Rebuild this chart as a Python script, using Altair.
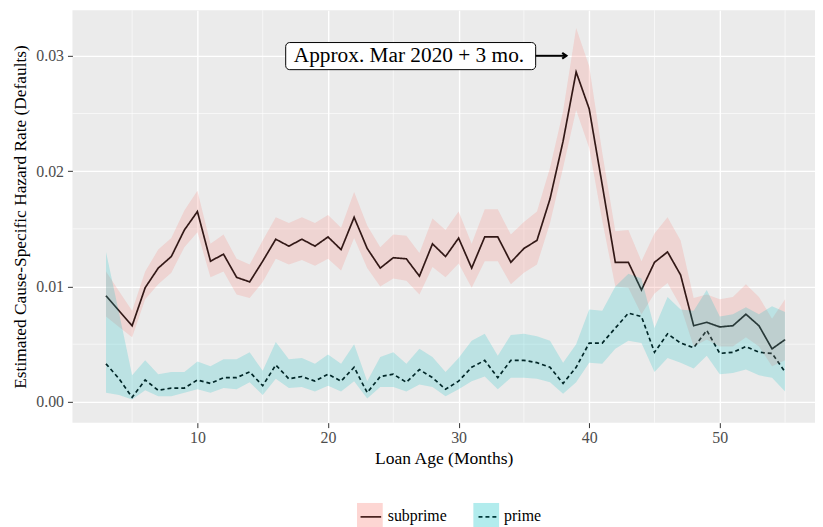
import altair as alt
import pandas as pd

# ---- data ----
age = list(range(3, 56))

sub_est = [0.0092, 0.0079, 0.0066, 0.0099, 0.0116, 0.0126, 0.0149, 0.0165, 0.0122, 0.0128,
           0.0108, 0.0104, 0.0122, 0.0141, 0.0135, 0.0141, 0.0135, 0.0143, 0.0132, 0.0160,
           0.0133, 0.0116, 0.0125, 0.0124, 0.0109, 0.0137, 0.0126, 0.0142, 0.0116, 0.0143,
           0.0143, 0.0121, 0.0133, 0.0140, 0.0176, 0.0226, 0.0286, 0.0254, 0.0188, 0.0121,
           0.0121, 0.0097, 0.0121, 0.0130, 0.0110, 0.0066, 0.0069, 0.0065, 0.0066, 0.0076,
           0.0066, 0.0046, 0.0054]
sub_lo = [0.0074, 0.0065, 0.0056, 0.0089, 0.0102, 0.0112, 0.0134, 0.0147, 0.0108, 0.0113,
          0.0093, 0.0090, 0.0104, 0.0124, 0.0119, 0.0123, 0.0118, 0.0124, 0.0114, 0.0142,
          0.0116, 0.0100, 0.0107, 0.0105, 0.0093, 0.0117, 0.0108, 0.0120, 0.0099, 0.0122,
          0.0122, 0.0102, 0.0112, 0.0119, 0.0155, 0.0203, 0.0253, 0.0220, 0.0157, 0.0100,
          0.0099, 0.0076, 0.0094, 0.0103, 0.0083, 0.0048, 0.0054, 0.0048, 0.0048, 0.0056,
          0.0048, 0.0031, 0.0036]
sub_hi = [0.0113, 0.0096, 0.0079, 0.0113, 0.0132, 0.0142, 0.0166, 0.0183, 0.0137, 0.0145,
          0.0124, 0.0119, 0.0140, 0.0160, 0.0155, 0.0160, 0.0155, 0.0162, 0.0151, 0.0182,
          0.0153, 0.0134, 0.0145, 0.0144, 0.0129, 0.0159, 0.0149, 0.0165, 0.0137, 0.0167,
          0.0167, 0.0145, 0.0156, 0.0165, 0.0203, 0.0252, 0.0324, 0.0291, 0.0216, 0.0148,
          0.0149, 0.0122, 0.0146, 0.0160, 0.0140, 0.0090, 0.0093, 0.0089, 0.0091, 0.0102,
          0.0091, 0.0072, 0.0089]

pri_est = [0.0033, 0.0020, 0.0004, 0.0019, 0.0010, 0.0012, 0.0012, 0.0019, 0.0016, 0.0021,
           0.0021, 0.0026, 0.0014, 0.0032, 0.0020, 0.0022, 0.0018, 0.0024, 0.0018, 0.0030,
           0.0008, 0.0022, 0.0024, 0.0017, 0.0028, 0.0021, 0.0011, 0.0018, 0.0030, 0.0036,
           0.0021, 0.0036, 0.0036, 0.0034, 0.0030, 0.0016, 0.0030, 0.0051, 0.0051, 0.0064,
           0.0077, 0.0074, 0.0043, 0.0059, 0.0051, 0.0047, 0.0062, 0.0042, 0.0043, 0.0048,
           0.0043, 0.0042, 0.0026]
pri_lo = [0.0008, 0.0006, 0.0002, 0.0010, 0.0005, 0.0005, 0.0008, 0.0011, 0.0008, 0.0012,
          0.0011, 0.0017, 0.0006, 0.0020, 0.0012, 0.0013, 0.0009, 0.0014, 0.0009, 0.0018,
          0.0003, 0.0013, 0.0013, 0.0009, 0.0015, 0.0013, 0.0005, 0.0011, 0.0018, 0.0022,
          0.0011, 0.0021, 0.0021, 0.0020, 0.0017, 0.0007, 0.0017, 0.0034, 0.0033, 0.0046,
          0.0053, 0.0051, 0.0026, 0.0038, 0.0034, 0.0029, 0.0040, 0.0024, 0.0025, 0.0028,
          0.0023, 0.0021, 0.0009]
pri_hi = [0.0130, 0.0077, 0.0023, 0.0036, 0.0024, 0.0026, 0.0026, 0.0035, 0.0031, 0.0037,
          0.0037, 0.0043, 0.0027, 0.0052, 0.0037, 0.0038, 0.0033, 0.0041, 0.0033, 0.0050,
          0.0018, 0.0039, 0.0043, 0.0033, 0.0046, 0.0039, 0.0026, 0.0038, 0.0053, 0.0059,
          0.0040, 0.0058, 0.0059, 0.0057, 0.0053, 0.0034, 0.0050, 0.0080, 0.0079, 0.0100,
          0.0111, 0.0107, 0.0064, 0.0091, 0.0080, 0.0079, 0.0097, 0.0074, 0.0076, 0.0082,
          0.0076, 0.0083, 0.0078]

groups = ["subprime", "prime"]
group_colors = ["#F8766D", "#00BFC4"]

x_major = [10, 20, 30, 40, 50]
x_minor = [5, 15, 25, 35, 45, 55]
y_major = [0.0, 0.01, 0.02, 0.03]
y_minor = [0.005, 0.015, 0.025]

ann_label = ["Approx. Mar 2020 + 3 mo."]
ann_x = [26.2]
ann_y = [0.0300]
box_x0, box_x1 = [16.76], [35.9]
box_y0, box_y1 = [0.0288], [0.03115]
arrow_x0, arrow_x1, arrow_y = [35.9], [38.25], [0.0300]

# ---- tables ----
rows = []
for i, a in enumerate(age):
    rows.append(dict(age=a, group="subprime", est=sub_est[i], lo=sub_lo[i], hi=sub_hi[i]))
    rows.append(dict(age=a, group="prime", est=pri_est[i], lo=pri_lo[i], hi=pri_hi[i]))
df = pd.DataFrame(rows)

ann_df = pd.DataFrame(dict(label=ann_label, x=ann_x, y=ann_y, bx0=box_x0, bx1=box_x1,
                           by0=box_y0, by1=box_y1, ax0=arrow_x0, ax1=arrow_x1, ay=arrow_y))
xminor_df = pd.DataFrame(dict(v=x_minor))
yminor_df = pd.DataFrame(dict(v=y_minor))

FONT = "Liberation Serif"
xs = alt.Scale(domain=[0.43, 57.29], nice=False, zero=False)
ys = alt.Scale(domain=[-0.0018, 0.03395], nice=False, zero=False)

x_axis = alt.Axis(values=x_major, title="Loan Age (Months)", grid=True, gridColor="white",
                  gridWidth=1.4, domain=False, tickColor="#333333", tickSize=5,
                  labelFont=FONT, labelFontSize=16, labelColor="#4D4D4D", labelPadding=2,
                  titleFont=FONT, titleFontSize=17.7, titleFontWeight="normal",
                  titleColor="black", titlePadding=4)
y_axis = alt.Axis(values=y_major, format=".2f", title="Estimated Cause-Specific Hazard Rate (Defaults)",
                  grid=True, gridColor="white", gridWidth=1.4, domain=False,
                  tickColor="#333333", tickSize=5, labelFont=FONT, labelFontSize=16,
                  labelColor="#4D4D4D", labelPadding=4, titleFont=FONT, titleFontSize=17.5,
                  titleFontWeight="normal", titleColor="black", titlePadding=6)

LEG_X, LEG_Y = 287, 497
SQ = 26
SUBPRIME_W = 59.6  # width of the "subprime" label at 16px

minor_x = alt.Chart(xminor_df).mark_rule(color="white", strokeWidth=0.6).encode(
    x=alt.X("v:Q", scale=xs, axis=x_axis))
minor_y = alt.Chart(yminor_df).mark_rule(color="white", strokeWidth=0.6).encode(
    y=alt.Y("v:Q", scale=ys, axis=y_axis))

lines = alt.Chart(df).mark_line(color="black", strokeWidth=1.7).encode(
    x=alt.X("age:Q", scale=xs, axis=x_axis),
    y=alt.Y("est:Q", scale=ys, axis=y_axis),
    detail="group:N",
    strokeDash=alt.StrokeDash(
        "group:N", sort=groups,
        scale=alt.Scale(range=[[1, 0], [4, 3]]),
        legend=alt.Legend(orient="none", legendX=LEG_X, legendY=LEG_Y, direction="horizontal",
                          title=None, symbolType="M-0.8,0H0.8", symbolSize=SQ * SQ,
                          symbolStrokeColor="black", symbolStrokeWidth=1.7,
                          labelExpr="''", labelOffset=5, columnPadding=26.4 + SUBPRIME_W,
                          labelFont=FONT, labelFontSize=16, labelColor="black")),
)

ribbons = alt.Chart(df).mark_area(opacity=0.2).encode(
    x=alt.X("age:Q", scale=xs, axis=x_axis),
    y=alt.Y("lo:Q", scale=ys, axis=y_axis),
    y2="hi:Q",
    fill=alt.Fill("group:N", scale=alt.Scale(domain=groups, range=group_colors),
                  legend=alt.Legend(orient="none", legendX=LEG_X, legendY=LEG_Y,
                                    direction="horizontal", title=None, symbolType="square",
                                    symbolSize=SQ * SQ, symbolOpacity=0.3, symbolStrokeWidth=0,
                                    labelOffset=5, columnPadding=26.4,
                                    labelFont=FONT, labelFontSize=16, labelColor="black")),
)

box = alt.Chart(ann_df).mark_rect(fill="white", stroke="black", strokeWidth=1,
                                  cornerRadius=4).encode(
    x=alt.X("bx0:Q", scale=xs), x2="bx1:Q", y=alt.Y("by0:Q", scale=ys), y2="by1:Q")
txt = alt.Chart(ann_df).mark_text(font=FONT, fontSize=21.5, color="black",
                                  align="center", baseline="middle").encode(
    x=alt.X("x:Q", scale=xs), y=alt.Y("y:Q", scale=ys), text="label:N")
arrow = alt.Chart(ann_df).mark_rule(color="black", strokeWidth=2).encode(
    x=alt.X("ax0:Q", scale=xs), x2="ax1:Q", y=alt.Y("ay:Q", scale=ys))
head = alt.Chart(ann_df).mark_point(shape="M-1,-0.7L0,0L-1,0.7", filled=False,
                                    stroke="black", strokeWidth=2.2, size=70,
                                    opacity=1).encode(
    x=alt.X("ax1:Q", scale=xs), y=alt.Y("ay:Q", scale=ys))

chart = alt.layer(minor_x, minor_y, lines, ribbons, box, txt, arrow, head).properties(
    width=749, height=416, autosize="none", background="white",
    padding={"left": 65, "top": 0, "right": 0, "bottom": 105},
).configure_view(fill="#EBEBEB", stroke=None)

chart.save("out.html", embed_options={"renderer": "svg", "actions": False})
